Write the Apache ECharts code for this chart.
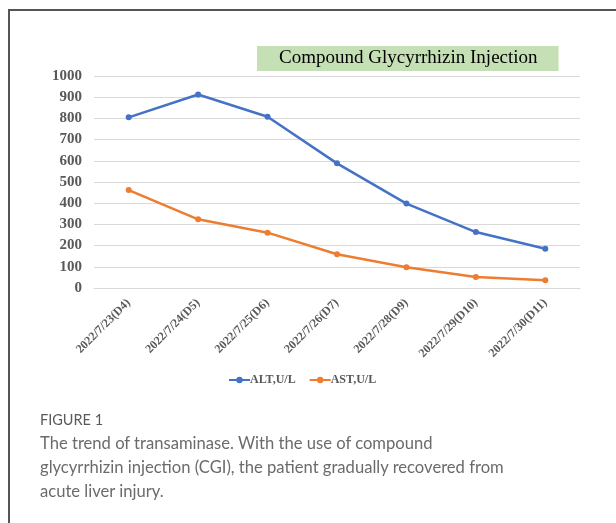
<!DOCTYPE html>
<html>
<head>
<meta charset="utf-8">
<script src="https://cdn.jsdelivr.net/npm/echarts@6/dist/echarts.min.js"></script>
<style>
	html, body { margin: 0; padding: 0; background: #fff; }
	#frame {
		position: absolute; left: 8px; top: 9px; width: 620px; height: 520px;
		border-top: 2px solid #555; border-left: 2px solid #555;
	}
	#main { position: absolute; left: 0; top: 0; width: 616px; height: 523px; }
	#caption {
		position: absolute; left: 40px; top: 409px; width: 560px; white-space: nowrap;
		font-family: Lato, "Open Sans", sans-serif; color: #6b6b6b;
	}
	#caption .fig { font-size: 14.5px; color: #5a5a5a; line-height: 22px; }
	#caption .txt { font-size: 16.6px; line-height: 24px; }
</style>
</head>
<body>
<div id="frame"></div>
<div id="main"></div>
<div id="caption">
	<div class="fig">FIGURE 1</div>
	<div class="txt">The trend of transaminase. With the use of compound<br>glycyrrhizin injection (CGI), the patient gradually recovered from<br>acute liver injury.</div>
</div>
<script>
	var dates = ['2022/7/23(D4)', '2022/7/24(D5)', '2022/7/25(D6)', '2022/7/26(D7)', '2022/7/28(D9)', '2022/7/29(D10)', '2022/7/30(D11)'];
	var altData = [805, 913, 808, 588, 398, 264, 185]; //ALT
	var astData = [462, 324, 261, 159, 98, 52, 36]; //AST
	var yTicks = [0, 100, 200, 300, 400, 500, 600, 700, 800, 900, 1000];

	var serif = '"Liberation Serif", "Times New Roman", serif';
	var myChart = echarts.init(document.getElementById('main'));

	var option = {
		backgroundColor: 'transparent',
		animation: false,
		title: {
			text: 'Compound Glycyrrhizin Injection',
			left: 257,
			top: 46,
			padding: [3, 21, 3, 22],
			backgroundColor: '#c5e0b4',
			textStyle: {
				fontFamily: serif,
				fontWeight: 'normal',
				fontSize: 19,
				lineHeight: 19,
				color: '#000'
			}
		},
		legend: {
			left: 228,
			top: 374,
			padding: 0,
			itemWidth: 21,
			itemHeight: 8,
			itemGap: 13,
			textStyle: {
				fontFamily: serif,
				fontWeight: 'bold',
				fontSize: 12,
				color: '#595959',
				padding: [0, 0, 0, -5]
			},
			data: ['ALT,U/L', 'AST,U/L']
		},
		grid: {
			left: 94,
			right: 36,
			top: 76,
			bottom: 235,
			containLabel: false
		},
		xAxis: {
			type: 'category',
			data: dates,
			boundaryGap: true,
			axisLine: { show: true, lineStyle: { color: '#d9d9d9', width: 1 } },
			axisTick: { show: false },
			axisLabel: {
				rotate: 45,
				margin: 13,
				interval: 0,
				fontFamily: serif,
				fontWeight: 'bold',
				fontSize: 12,
				color: '#595959'
			}
		},
		yAxis: {
			type: 'value',
			min: yTicks[0],
			max: yTicks[yTicks.length - 1],
			interval: 100,
			axisLine: { show: false },
			axisTick: { show: false },
			splitLine: { lineStyle: { color: '#d9d9d9', width: 1 } },
			axisLabel: {
				margin: 12,
				formatter: function(v) { return String(v); },
				fontFamily: serif,
				fontWeight: 'bold',
				fontSize: 15,
				color: '#595959'
			}
		},
		series: [{
			name: 'ALT,U/L',
			type: 'line',
			data: altData,
			symbol: 'circle',
			symbolSize: 6,
			lineStyle: { color: '#4472c4', width: 2.5 },
			itemStyle: { color: '#4472c4' }
		}, {
			name: 'AST,U/L',
			type: 'line',
			data: astData,
			symbol: 'circle',
			symbolSize: 6,
			lineStyle: { color: '#ed7d31', width: 2.5 },
			itemStyle: { color: '#ed7d31' }
		}]
	};
	myChart.setOption(option);
</script>
</body>
</html>
